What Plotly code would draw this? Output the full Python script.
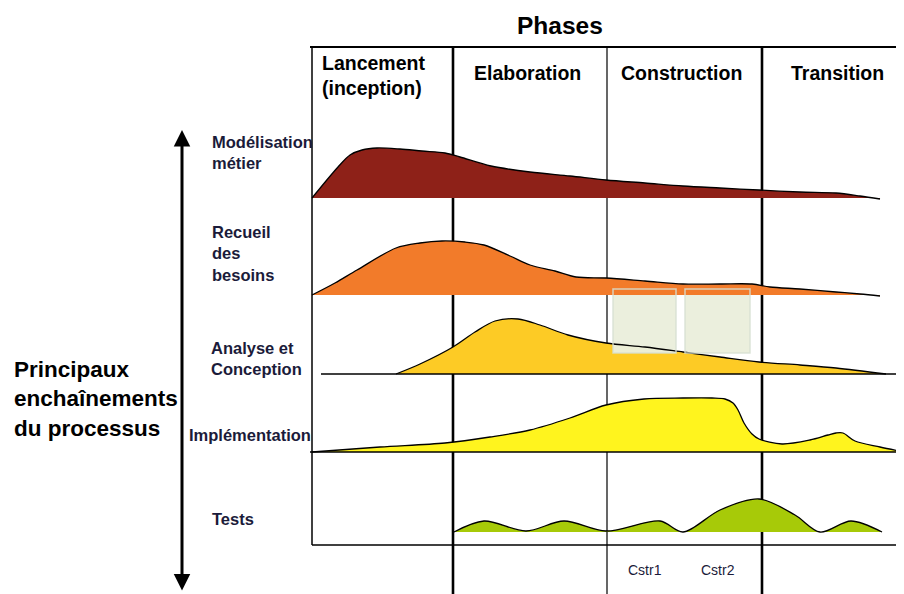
import plotly.graph_objects as go

# ---------------- data (diagram units: x = time, y = vertical page position) ----
title_text = "Phases"
phase_names = ["Lancement<br>(inception)", "Elaboration", "Construction", "Transition"]
phase_bounds = [312, 453, 607, 762, 904]
phase_line_widths = [1.5, 2.6, 1.2, 2.6]

workflow_names = ["Modélisation<br>métier", "Recueil<br>des<br>besoins",
                  "Analyse et<br>Conception", "Implémentation", "Tests"]
workflow_label_x = [210, 210, 209, 187, 210]
workflow_label_y = [152, 253, 358, 435, 519]
workflow_baseline = [198, 295, 374, 452, 532]
workflow_colors = ["#8E2118", "#F27B2A", "#FDCB25", "#FFF41E", "#A7CA08"]

mod_x = [312, 338, 350, 362, 377, 400, 422, 445, 460, 491, 530, 570, 606, 645, 683, 720, 759, 800, 836, 860, 880]
mod_y = [198, 167, 155, 150, 148, 149, 151, 153, 157, 166, 172, 176, 180, 183, 186, 188, 190, 192, 193, 196, 199]

rec_x = [312, 335, 357, 396, 420, 442, 465, 484, 510, 530, 555, 576, 606, 645, 683, 720, 752, 770, 800, 836, 860, 880]
rec_y = [295, 283, 270, 248, 243, 241, 242, 245, 256, 265, 271, 277, 278, 281, 284, 284, 284, 287, 289, 292, 294, 296]

ana_x = [396, 420, 453, 475, 495, 518, 540, 568, 606, 645, 683, 720, 759, 800, 836, 886]
ana_y = [374, 364, 347, 332, 321, 319, 325, 335, 343, 347, 352, 357, 362, 365, 368, 374]

imp_x = [312, 380, 445, 490, 530, 570, 606, 644, 683, 712, 725, 733, 738, 744, 752, 759, 782, 810, 828, 836, 843, 855, 880, 904]
imp_y = [452, 447, 443, 437, 430, 418, 405, 399, 398, 398, 399, 403, 410, 423, 434, 439, 444, 440, 435, 433, 433, 441, 447, 452]

tst_x = [454, 484, 526, 564, 606, 660, 683, 720, 759, 795, 820, 851, 882]
tst_y = [532, 521, 531, 521, 531, 521, 532, 510, 499, 515, 532, 521, 532]

iter_names = ["Cstr1", "Cstr2"]
iter_x0 = [613, 685]
iter_x1 = [676, 750]
iter_box_top = 289
iter_box_bottom = 353
iter_label_y = 570

left_title = "Principaux<br>enchaînements<br>du processus"

# --------------------------------------------------------------------------------
FONT = "Liberation Sans, Arial, sans-serif"
PAGE_OFFSET = 8  # default body margin of the html page
fig = go.Figure()
series = [(mod_x, mod_y), (rec_x, rec_y), (ana_x, ana_y), (imp_x, imp_y), (tst_x, tst_y)]


def add_fill(i):
    xs, ys = series[i]
    b = workflow_baseline[i]
    fig.add_trace(go.Scatter(x=[xs[0], xs[-1]], y=[b, b], mode="lines",
                             line=dict(width=0, color="rgba(0,0,0,0)"),
                             hoverinfo="skip", showlegend=False))
    fig.add_trace(go.Scatter(x=xs, y=ys, mode="lines", fill="tonexty",
                             fillcolor=workflow_colors[i],
                             line=dict(width=0, shape="spline", smoothing=0.9,
                                       color=workflow_colors[i]),
                             hoverinfo="skip", showlegend=False))


def add_outline(i):
    xs, ys = series[i]
    fig.add_trace(go.Scatter(x=xs, y=ys, mode="lines",
                             line=dict(width=1.3, shape="spline", smoothing=0.9, color="black"),
                             hoverinfo="skip", showlegend=False))


add_fill(0)
add_outline(0)
add_fill(2)
for x0, x1 in zip(iter_x0, iter_x1):
    fig.add_trace(go.Scatter(x=[x0, x1, x1, x0, x0],
                             y=[iter_box_top, iter_box_top, iter_box_bottom, iter_box_bottom, iter_box_top],
                             mode="lines", fill="toself", fillcolor="rgba(234,238,220,0.97)",
                             line=dict(width=0), hoverinfo="skip", showlegend=False))
add_outline(2)
add_fill(3)
add_outline(3)
add_fill(4)
add_outline(4)
add_fill(1)
add_outline(1)

shapes = []
for i, xb in enumerate(phase_bounds[:-1]):
    y_end = 545 if i == 0 else 600
    shapes.append(dict(type="line", xref="x", yref="y", x0=xb, x1=xb, y0=47, y1=y_end,
                       line=dict(color="black", width=phase_line_widths[i]), layer="below"))
shapes.append(dict(type="line", xref="x", yref="y", x0=310, x1=910, y0=47, y1=47,
                   line=dict(color="black", width=2), layer="below"))
shapes.append(dict(type="line", xref="x", yref="y", x0=312, x1=910, y0=545, y1=545,
                   line=dict(color="black", width=1.5), layer="below"))
shapes.append(dict(type="line", xref="x", yref="y", x0=321, x1=910, y0=workflow_baseline[2], y1=workflow_baseline[2],
                   line=dict(color="black", width=1.3), layer="above"))
shapes.append(dict(type="line", xref="x", yref="y", x0=310, x1=910, y0=workflow_baseline[3], y1=workflow_baseline[3],
                   line=dict(color="black", width=1.3), layer="above"))
for x0, x1 in zip(iter_x0, iter_x1):
    shapes.append(dict(type="rect", xref="x", yref="y", x0=x0, x1=x1, y0=iter_box_top, y1=iter_box_bottom,
                       line=dict(color="rgba(215,225,210,0.85)", width=1.5), fillcolor="rgba(0,0,0,0)",
                       layer="above"))

annotations = []
annotations.append(dict(x=560, y=25, xref="x", yref="y", text=title_text, showarrow=False,
                        font=dict(family=FONT, size=24.5, color="black", weight="bold"),
                        xanchor="center", yanchor="middle"))
for i, name in enumerate(phase_names):
    if i == 0:
        annotations.append(dict(x=phase_bounds[0] + 8, y=75, xref="x", yref="y", text=name,
                                showarrow=False, align="left", xanchor="left", yanchor="middle",
                                font=dict(family=FONT, size=19.5, color="black", weight="bold")))
    else:
        annotations.append(dict(x=(phase_bounds[i] + phase_bounds[i + 1]) / 2 + (4 if i == 3 else -3), y=73,
                                xref="x", yref="y", text=name, showarrow=False,
                                xanchor="center", yanchor="middle",
                                font=dict(family=FONT, size=19.5, color="black", weight="bold")))
for i, name in enumerate(workflow_names):
    annotations.append(dict(x=workflow_label_x[i], y=workflow_label_y[i], xref="x", yref="y", text=name,
                            showarrow=False, align="left", xanchor="left", yanchor="middle",
                            font=dict(family=FONT, size=16.5, color="#1b1b3a", weight="bold")))
annotations.append(dict(x=12, y=399, xref="x", yref="y", text=left_title, showarrow=False,
                        align="left", xanchor="left", yanchor="middle",
                        font=dict(family=FONT, size=22.5, color="black", weight="bold")))
for name, x0, x1 in zip(iter_names, iter_x0, iter_x1):
    annotations.append(dict(x=(x0 + x1) / 2, y=iter_label_y, xref="x", yref="y", text=name,
                            showarrow=False, xanchor="center", yanchor="middle",
                            font=dict(family=FONT, size=14, color="#1b1b3a")))
annotations.append(dict(x=182, y=130, ax=182, ay=592, xref="x", yref="y", axref="x", ayref="y",
                        text="", showarrow=True, arrowhead=2, arrowside="end+start",
                        arrowwidth=3, arrowsize=1.1, arrowcolor="black"))

fig.update_layout(
    width=904, height=594,
    margin=dict(l=0, r=0, t=0, b=0),
    paper_bgcolor="white", plot_bgcolor="white",
    xaxis=dict(range=[PAGE_OFFSET, 904 + PAGE_OFFSET], visible=False, fixedrange=True),
    yaxis=dict(range=[594 + PAGE_OFFSET, PAGE_OFFSET], visible=False, fixedrange=True),
    shapes=shapes, annotations=annotations,
    showlegend=False,
)
fig.write_html("out.html", config={"displayModeBar": False})
